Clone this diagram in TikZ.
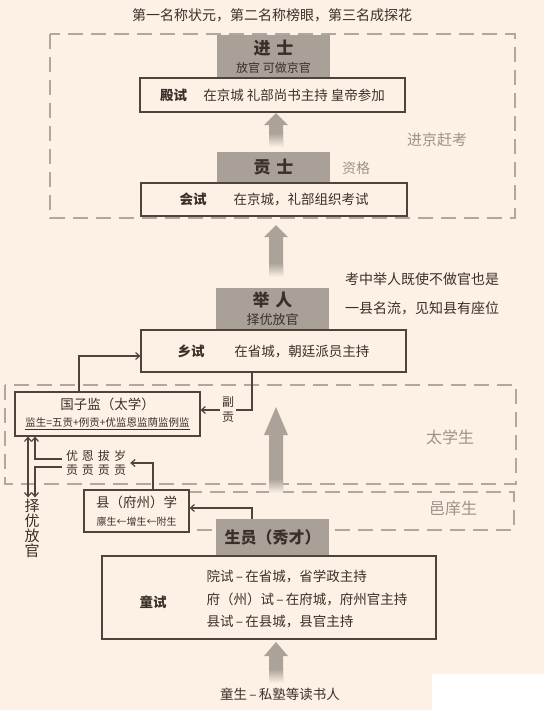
\documentclass[tikz,border=0pt]{standalone}
\usepackage{fontspec}
\setmainfont{Noto Sans CJK SC}
\usetikzlibrary{arrows.meta, calc}
\definecolor{bg}{HTML}{FCF1E4}
\definecolor{blockgray}{HTML}{A9A197}
\definecolor{arrowgray}{HTML}{ABA39A}
\definecolor{linebrown}{HTML}{4F443D}
\definecolor{ink}{HTML}{3A302A}
\definecolor{softgray}{HTML}{9C938A}
\definecolor{dashgray}{HTML}{B0A89F}
\tikzset{
  exambox/.style={draw=linebrown, line width=1.1pt, fill=bg, inner sep=0pt, text=ink},
  grayblock/.style={fill=blockgray, inner sep=0pt, text=ink, align=center},
  dashbox/.style={draw=dashgray, line width=1.3pt, dash pattern=on 15pt off 8pt},
  link/.style={draw=linebrown, line width=1.2pt},
  regionlabel/.style={text=softgray, font=\fontsize{15}{18}\selectfont},
}
\newcommand{\grayarrow}[4]{%
  % 灰色粗箭头: #1 x坐标, #2 箭尖y, #3 箭尾y, #4 箭头长度
  \fill[arrowgray] (#1,#2) -- ({#1+12},{#2+#4}) -- ({#1+7},{#2+#4}) -- ({#1+7},#3)
    -- ({#1-7},#3) -- ({#1-7},{#2+#4}) -- ({#1-12},{#2+#4}) -- cycle;
  % 箭尾渐隐
  \shade[top color=arrowgray, bottom color=bg] ({#1-7},{#3-14}) rectangle ({#1+7},#3);
}
\newcommand{\headfont}{\bfseries\fontsize{17}{20}\selectfont}
\newcommand{\bodyfont}{\fontsize{13.5}{16}\selectfont}
\begin{document}
\begin{tikzpicture}[x=1pt, y=-1pt, >={Straight Barb[length=4pt,width=7pt]}, text=ink]
  \useasboundingbox (0,0) rectangle (544,710);
  \fill[bg] (0,0) rectangle (544,710);

  % 标题
  \node[font=\fontsize{14}{16}\selectfont] (title) at (272,15) {第一名称状元，第二名称榜眼，第三名成探花};

  % 虚线分区
  \draw[dashbox] (50,34) rectangle (515,218);
  \draw[dashbox] (5,385) rectangle (516,484);
  \draw[dashbox] (189,492) rectangle (514,530);
  \node[regionlabel] (jingkao) at (437,140) {进京赶考};
  \node[regionlabel, font=\fontsize{14}{16}\selectfont] (zige) at (356,168) {资格};
  \node[regionlabel, font=\fontsize{16}{18}\selectfont] (taixue) at (450,437) {太学生};
  \node[regionlabel, font=\fontsize{16}{18}\selectfont] (yixiang) at (453,508) {邑庠生};

  % 灰色粗箭头
  \grayarrow{276}{113}{147}{12}
  \grayarrow{276}{225}{277}{12}
  \grayarrow{276}{407}{493}{28}
  \grayarrow{276}{642}{683}{14}

  % 进士 / 殿试
  \node[grayblock, minimum width=113, minimum height=43, font=\fontsize{12}{18}\selectfont]
    (jinshi) at (273.5,56.5) {{\headfont 进\hspace{6pt}士}\\放官 可做京官};
  \node[exambox, minimum width=265, minimum height=34, font=\bodyfont]
    (dianshi) at (272.5,95) {\textbf{殿试}\hspace{1.2em}在京城 礼部尚书主持 皇帝参加};

  % 贡士 / 会试
  \node[grayblock, minimum width=113, minimum height=31] (gongshi) at (273.5,167.5) {\headfont 贡\hspace{6pt}士};
  \node[exambox, minimum width=266, minimum height=33, font=\bodyfont]
    (huishi) at (274,199.5) {\textbf{会试}\hspace{2em}在京城，礼部组织考试};

  % 举人 / 乡试
  \node[font=\fontsize{14}{29}\selectfont, align=center] (note) at (422,293.5)
    {考中举人既使不做官也是\\一县名流，见知县有座位};
  \node[grayblock, minimum width=113, minimum height=42, font=\fontsize{13}{18}\selectfont]
    (juren) at (272.5,309) {{\headfont 举\hspace{6pt}人}\\择优放官};
  \node[exambox, minimum width=265, minimum height=42, font=\bodyfont]
    (xiangshi) at (273.5,351) {\textbf{乡试}\hspace{2.2em}在省城，朝廷派员主持};

  % 国子监
  \node[exambox, minimum width=185, minimum height=44, align=center, font=\fontsize{13.5}{17}\selectfont]
    (guozijian) at (107.5,414) {国子监（太学）\\{\fontsize{10.5}{12}\selectfont\underline{监生=五贡+例贡+优监恩监荫监例监}}};
  \node[font=\fontsize{12}{15}\selectfont, align=center, inner sep=2pt] (fugong) at (228,410) {副\\贡};
  \node[font=\fontsize{12}{14.5}\selectfont, align=center, inner xsep=4pt, inner ysep=1pt]
    (wugong) at (96,463) {优\hspace{4pt}恩\hspace{4pt}拔\hspace{4pt}岁\\贡\hspace{4pt}贡\hspace{4pt}贡\hspace{4pt}贡};
  \node[font=\fontsize{15}{15}\selectfont, align=center, inner sep=1pt] (zeyou) at (32,528) {择\\优\\放\\官};

  % 县学 / 生员 / 童试
  \node[exambox, minimum width=105, minimum height=42, align=center, font=\fontsize{13.5}{18}\selectfont]
    (xianxue) at (136.5,511) {县（府州）学\\{\fontsize{10}{12}\selectfont 廪生←增生←附生}};
  \node[grayblock, minimum width=113, minimum height=36, font=\bfseries\fontsize{16}{18}\selectfont]
    (shengyuan) at (272.5,537) {生员（秀才）};
  \node[exambox, minimum width=334, minimum height=83] (tongshi) at (269,597.5) {};
  \node[font=\bfseries\fontsize{13.5}{16}\selectfont] (tongshilabel) at (153,602) {童试};
  \node[anchor=west, align=left, font=\fontsize{13.5}{22.5}\selectfont] (tongshitext) at (203,599)
    {院试\,–\,在省城，省学政主持\\府（州）试\,–\,在府城，府州官主持\\县试\,–\,在县城，县官主持};
  \node[font=\bodyfont] (tongsheng) at (280,694) {童生\,–\,私塾等读书人};

  % 细线连接
  \coordinate (k1) at (79,356);
  \draw[link,->] (guozijian.north -| k1) |- (xiangshi.west |- k1);
  \coordinate (k2) at (252,410);
  \draw[link] (xiangshi.south -| k2) |- (fugong.east);
  \draw[link,->] (fugong.west) -- (guozijian.east |- fugong);
  \coordinate (k3) at (153,463);
  \draw[link,->] (xianxue.north -| k3) |- (wugong.east);
  \coordinate (k4) at (35,459);
  \coordinate (k5) at (35,467);
  \draw[link,->] (wugong.west |- k4) -| (guozijian.south -| k4);
  \draw[link,->] (wugong.west |- k5) -| (zeyou.north -| k5);
  \coordinate (k6) at (28,0);
  \draw[link,<->] (guozijian.south -| k6) -- (zeyou.north -| k6);
  \coordinate (k7) at (252,508);
  \draw[link,->] (shengyuan.north -| k7) |- (xianxue.east |- k7);

  % 右下角白块
  \fill[white] (432,674) rectangle (544,710);
\end{tikzpicture}
\end{document}
